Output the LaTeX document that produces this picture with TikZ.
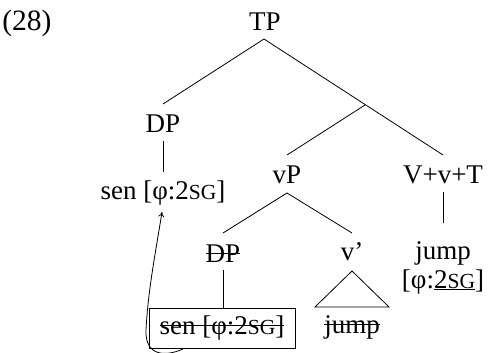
\documentclass[tikz,border=0pt]{standalone}
\usepackage{fontspec}
\setmainfont{Liberation Serif}
\usetikzlibrary{arrows.meta}
\newcommand\smc[1]{{\fontsize{21.5}{24}\selectfont #1}}
\newcommand\strk[1]{\setbox0=\hbox{#1}\rlap{\rule[0.3em]{\wd0}{0.9pt}}\box0}
\begin{document}
\begin{tikzpicture}[x=1pt,y=-1pt,
  lab/.style={anchor=base,inner sep=0pt,font=\fontsize{27}{30}\selectfont},
  every path/.style={line width=0.8pt}]
\useasboundingbox (0,0) rectangle (488,353);
\node[lab,anchor=base west,font=\fontsize{29.5}{32}\selectfont] (ex) at (2,31) {(28)};
\node[lab] (tp) at (265,31) {TP};
\coordinate (tbar) at (365,105);
\node[lab] (dp1) at (163,132) {DP};
\node[lab] (sen1) at (163,200) {sen [φ:2\smc{SG}]};
\node[lab] (vp) at (287,183) {vP};
\node[lab] (vvt) at (443,183) {V+v+T};
\node[lab] (jump1) at (443,259) {jump};
\node[lab] (feat) at (443,288) {[φ:\underline{2\smc{SG}}]};
\node[lab] (vbar) at (352,260) {v’};
\node[lab] (dp2) at (223,262) {\strk{DP}};
\node[lab] (jump2) at (352,333) {\strk{jump}};
\node[draw,inner sep=0pt,minimum width=146pt,minimum height=40pt,font=\fontsize{27}{30}\selectfont] (box) at (222,328) {\strk{sen [φ:2\smc{SG}]}};
% tree lines
\coordinate (tpb) at (264,39);
\coordinate (dp1t) at (163,104);
\coordinate (vvtt) at (443,155);
\coordinate (vpt) at (287,155);
\draw (tpb) -- (dp1t);
\draw (tpb) -- (vvtt);
\draw (tbar) -- (vpt);
\coordinate (dp1b) at (163,141);
\coordinate (sen1t) at (163,172);
\draw (dp1b) -- (sen1t);
\coordinate (vpb) at (287,193);
\coordinate (dp2t) at (223,233);
\coordinate (vbart) at (352,233);
\draw (vpb) -- (dp2t);
\draw (vpb) -- (vbart);
\coordinate (tria) at (352,271);
\coordinate (tril) at (315,307);
\coordinate (trir) at (389,307);
\draw (tria) -- (tril) -- (trir) -- cycle;
\coordinate (dp2b) at (223,270);
\draw (dp2b) -- (box.north -| dp2b);
\coordinate (vvtb) at (443,192);
\coordinate (jump1t) at (443,223);
\draw (vvtb) -- (jump1t);
% movement arrow
\coordinate (mvs) at (183,349);
\coordinate (mve) at (162,212);
\draw[-{To[length=5pt,width=6pt]}] (mvs) .. controls (165,357) and (145,356) .. (146,330)
  .. controls (148,290) and (156,250) .. (mve);
\end{tikzpicture}
\end{document}
